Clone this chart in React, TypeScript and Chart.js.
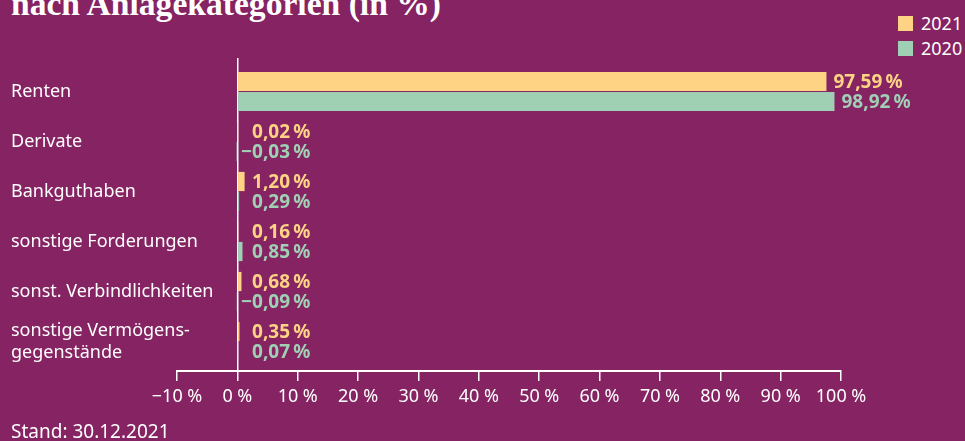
import React, { useEffect, useRef } from "react";
import { Chart, registerables } from "chart.js";

Chart.register(...registerables);

const categories: string[][] = [
  ["Renten"],
  ["Derivate"],
  ["Bankguthaben"],
  ["sonstige Forderungen"],
  ["sonst. Verbindlichkeiten"],
  ["sonstige Vermögens-", "gegenstände"],
];
const seriesLabels = ["2021", "2020"];
const values2021 = [97.59, 0.02, 1.2, 0.16, 0.68, 0.35];
const values2020 = [98.92, -0.03, 0.29, 0.85, -0.09, 0.07];
const xTickValues = [-10, 0, 10, 20, 30, 40, 50, 60, 70, 80, 90, 100];

const BG = "#852363";
const YELLOW = "#FED384";
const GREEN = "#A0D0B4";
const WHITE = "#FFFFFF";
const FONT = "'Noto Sans', 'Open Sans', sans-serif";

const fmtValue = (v: number) =>
  (v < 0 ? "\u2212" : "") + Math.abs(v).toFixed(2).replace(".", ",") + "\u2009%";
const fmtTick = (v: number) => (v < 0 ? "\u2212" : "") + Math.abs(v) + "\u2005%";

const valueLabels = {
  id: "valueLabels",
  afterDatasetsDraw(chart: any) {
    const { ctx } = chart;
    const xScale = chart.scales.x;
    const zero = xScale.getPixelForValue(0);
    ctx.save();
    ctx.font = `bold 19px ${FONT}`;
    ctx.textBaseline = "middle";
    chart.data.datasets.forEach((ds: any, di: number) => {
      const meta = chart.getDatasetMeta(di);
      meta.data.forEach((bar: any, i: number) => {
        const v = ds.data[i].x;
        ctx.fillStyle = ds.backgroundColor;
        const text = fmtValue(v);
        if (v > 10) {
          ctx.textAlign = "left";
          ctx.fillText(text, bar.x + 7, bar.y + 1);
        } else {
          ctx.textAlign = "right";
          ctx.fillText(text, zero + 73, bar.y + 1);
        }
      });
    });
    ctx.restore();
  },
};

const categoryLabels = {
  id: "categoryLabels",
  afterDraw(chart: any) {
    const { ctx } = chart;
    const yScale = chart.scales.y;
    const lineH = 22;
    ctx.save();
    ctx.font = `18px ${FONT}`;
    ctx.fillStyle = WHITE;
    ctx.textAlign = "left";
    ctx.textBaseline = "middle";
    categories.forEach((lines, i) => {
      const yc = yScale.getPixelForValue(i);
      const y0 = yc - ((lines.length - 1) * lineH) / 2;
      lines.forEach((ln, k) => ctx.fillText(ln, yScale.left, y0 + k * lineH));
    });
    ctx.restore();
  },
};

export default function App() {
  const canvasRef = useRef<HTMLCanvasElement | null>(null);

  useEffect(() => {
    if (!canvasRef.current) return;
    Chart.defaults.font.family = FONT;
    const toPoints = (arr: number[]) => arr.map((v, i) => ({ x: v, y: i }));
    const chart = new Chart(canvasRef.current, {
      type: "bar",
      data: {
        datasets: [
          {
            label: seriesLabels[0],
            data: toPoints(values2021),
            backgroundColor: YELLOW,
            categoryPercentage: 0.8,
            barPercentage: 0.96,
          },
          {
            label: seriesLabels[1],
            data: toPoints(values2020),
            backgroundColor: GREEN,
            categoryPercentage: 0.8,
            barPercentage: 0.96,
          },
        ] as any,
      },
      options: {
        indexAxis: "y",
        responsive: false,
        animation: false,
        devicePixelRatio: 1,
        layout: { padding: { left: 11, top: 58, right: 124, bottom: 30 } },
        plugins: { legend: { display: false }, tooltip: { enabled: false } },
        scales: {
          x: {
            type: "linear",
            min: -10,
            max: 100,
            afterBuildTicks: (scale: any) => {
              scale.ticks = xTickValues.map((v) => ({ value: v }));
            },
            afterFit: (scale: any) => {
              scale.height = 40;
            },
            ticks: {
              color: WHITE,
              font: { size: 18 },
              padding: 5,
              maxRotation: 0,
              autoSkip: false,
              callback: (v: any) => fmtTick(Number(v)),
            },
            grid: {
              color: (c: any) => (c.tick && c.tick.value === 0 ? WHITE : "rgba(0,0,0,0)"),
              tickColor: WHITE,
              tickLength: 10,
              lineWidth: 1.5,
            },
            border: { display: true, color: WHITE, width: 2 },
          },
          y: {
            type: "linear",
            reverse: true,
            offset: false,
            min: -0.67,
            max: 5.59,
            afterBuildTicks: (scale: any) => {
              scale.ticks = categories.map((_, i) => ({ value: i }));
            },
            afterFit: (scale: any) => {
              scale.width = 166;
            },
            ticks: { display: false },
            grid: { display: false },
            border: { display: false },
          },
        },
      } as any,
      plugins: [valueLabels, categoryLabels],
    });
    return () => chart.destroy();
  }, []);

  const legendRow = (color: string, text: string, top: number) => (
    <div
      style={{
        position: "absolute",
        left: 898,
        top,
        display: "flex",
        alignItems: "center",
        height: 16,
      }}
    >
      <div style={{ width: 15, height: 15, background: color }} />
      <span style={{ marginLeft: 8, color: WHITE, fontSize: 18, lineHeight: "16px", fontFamily: FONT }}>
        {text}
      </span>
    </div>
  );

  return (
    <div
      style={{
        position: "fixed",
        left: 0,
        top: 0,
        width: 965,
        height: 441,
        background: BG,
        overflow: "hidden",
      }}
    >
      <div
        style={{
          position: "absolute",
          left: 11,
          top: -13,
          color: WHITE,
          fontFamily: "'Liberation Serif', serif",
          fontWeight: "bold",
          fontSize: 33.6,
          lineHeight: "33px",
          whiteSpace: "nowrap",
        }}
      >
        nach Anlagekategorien (in %)
      </div>
      {legendRow(YELLOW, seriesLabels[0], 15)}
      {legendRow(GREEN, seriesLabels[1], 40)}
      <canvas
        ref={canvasRef}
        width={965}
        height={441}
        style={{ position: "absolute", left: 0, top: 0, width: 965, height: 441 }}
      />
      <div
        style={{
          position: "absolute",
          left: 11,
          top: 419,
          color: WHITE,
          fontFamily: FONT,
          fontSize: 19,
          lineHeight: "24px",
          whiteSpace: "nowrap",
        }}
      >
        Stand: 30.12.2021
      </div>
    </div>
  );
}
